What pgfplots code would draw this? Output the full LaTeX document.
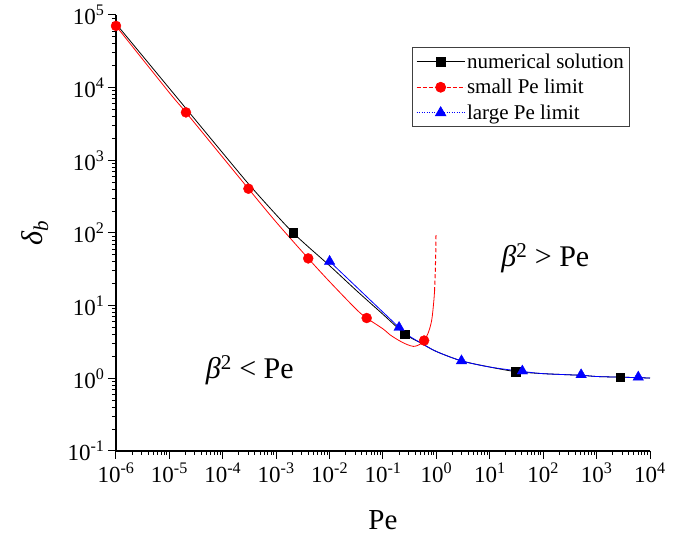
\documentclass[border=0pt]{standalone}
\usepackage{fontspec}
\setmainfont{Liberation Serif}
\usepackage{pgfplots}
\pgfplotsset{compat=1.18}
\begin{document}
\begin{tikzpicture}
\path[use as bounding box] (-116pt,-94pt) rectangle (577pt,451pt);
\begin{axis}[
  at={(0pt,0pt)}, anchor=south west,
  width=534pt, height=436pt, scale only axis,
  xmode=log, ymode=log,
  xmin=1e-6, xmax=1e4, ymin=1e-1, ymax=1e5,
  axis x line*=bottom, axis y line*=left,
  axis line style={line width=1.3pt, -},
  tick align=outside,
  major tick length=8pt, minor tick length=4pt,
  every tick/.style={black, line width=1pt},
  xtick={1e-6,1e-5,1e-4,1e-3,1e-2,1e-1,1,1e1,1e2,1e3,1e4},
  xticklabels={10\textsuperscript{-6},10\textsuperscript{-5},10\textsuperscript{-4},10\textsuperscript{-3},10\textsuperscript{-2},10\textsuperscript{-1},10\textsuperscript{0},10\textsuperscript{1},10\textsuperscript{2},10\textsuperscript{3},10\textsuperscript{4}},
  ytick={1e-1,1,1e1,1e2,1e3,1e4,1e5},
  yticklabels={10\textsuperscript{-1},10\textsuperscript{0},10\textsuperscript{1},10\textsuperscript{2},10\textsuperscript{3},10\textsuperscript{4},10\textsuperscript{5}},
  tick label style={font=\fontsize{23}{23}\selectfont},
  xlabel={Pe},
  xlabel style={font=\fontsize{29}{30}\selectfont, at={(axis description cs:0.5,-0.158)}, anchor=center},
  ylabel={\textit{δ}\textsubscript{\textit{b}}},
  ylabel style={font=\fontsize{30}{32}\selectfont, at={(axis description cs:-0.152,0.5)}, anchor=center},
  clip=false,
  legend style={at={(0.555,0.926)}, anchor=north west, draw=black!75, line width=0.8pt,
    font=\fontsize{21}{23}\selectfont, inner xsep=3.5pt, inner ysep=4pt, row sep=5.5pt,
    cells={anchor=west}},
  legend image code/.code={\draw[mark repeat=2,mark phase=2,#1] plot coordinates {(0pt,0pt) (24pt,0pt) (48pt,0pt)};},
]
\addlegendimage{black, line width=0.8pt, mark=square*, mark size=4.3pt}
\addlegendentry{numerical solution}
\addlegendimage{red, line width=0.8pt, dash pattern=on 4pt off 2pt, mark=*, mark size=5pt, mark options={solid}}
\addlegendentry{small Pe limit}
\addlegendimage{blue, line width=0.8pt, dash pattern=on 1pt off 1.5pt, mark=triangle*, mark size=6pt, mark options={solid}}
\addlegendentry{large Pe limit}

% numerical solution curve
\addplot[black, line width=0.8pt, smooth, forget plot] coordinates {
 (1e-6,75860) (1e-5,9772) (1e-4,1259) (3.162e-4,457) (1e-3,177.8) (2.089e-3,100)
 (3.981e-3,64.6) (0.01,35.5) (0.03162,16.2) (0.1,7.59) (0.257,4.07) (0.501,3.09)
 (1,2.34) (2.95,1.74) (10,1.43) (30.2,1.24) (100,1.16) (513,1.10) (1000,1.06)
 (2754,1.037) (6026,1.023) (1e4,1.007)
};
% small Pe limit curve (solid part)
\addplot[red, line width=0.8pt, smooth, tension=0.5, forget plot] coordinates {
 (1e-6,70795) (1e-5,8511) (2.042e-5,4571) (1e-4,1096) (3.02e-4,407) (1e-3,141)
 (3.981e-3,44.7) (0.01,21.4) (0.0316,8.91) (0.0495,6.76) (0.1,4.79) (0.135,3.98)
 (0.2,3.31) (0.282,2.92) (0.372,2.75) (0.468,2.88) (0.589,3.31) (0.708,4.27)
 (0.817,6.31) (0.891,11.2) (0.923,15.8)
};
% small Pe limit curve (dashed part)
\addplot[color=red, line width=1pt, dash pattern=on 4pt off 2.5pt, smooth, forget plot] coordinates {
 (0.923,15.8) (0.955,31.6) (0.977,63.1) (0.984,100)
};
% large Pe limit curve
\addplot[blue, line width=0.8pt, smooth, forget plot] coordinates {
 (0.01,40.7) (0.0316,18.2) (0.1,8.13) (0.2,5.01) (0.257,4.17) (0.501,3.09)
 (1,2.34) (2.95,1.74) (10,1.43) (40.7,1.245) (100,1.16) (513,1.10) (1000,1.06)
 (2754,1.037) (6026,1.023) (1e4,1.007)
};
% markers
\addplot[only marks, mark=square*, mark size=4.3pt, black, forget plot] coordinates {
 (2.089e-3,100) (0.257,4.07) (30.2,1.24) (2754,1.04)
};
\addplot[only marks, mark=*, mark size=5pt, red, forget plot] coordinates {
 (1e-6,70795) (2.042e-5,4571) (3.02e-4,407) (3.981e-3,44.7) (0.0495,6.76) (0.589,3.31)
};
\addplot[only marks, mark=triangle*, mark size=6pt, blue, forget plot] coordinates {
 (0.01,40.7) (0.2,5.01) (2.95,1.74) (40.7,1.26) (513,1.12) (6026,1.04)
};

\node[font=\fontsize{30}{32}\selectfont] at (axis cs:110,45) {\textit{β}\textsuperscript{2} > Pe};
\node[font=\fontsize{30}{32}\selectfont] at (axis cs:3.2e-4,1.31) {\textit{β}\textsuperscript{2} < Pe};
\end{axis}
\end{tikzpicture}
\end{document}
